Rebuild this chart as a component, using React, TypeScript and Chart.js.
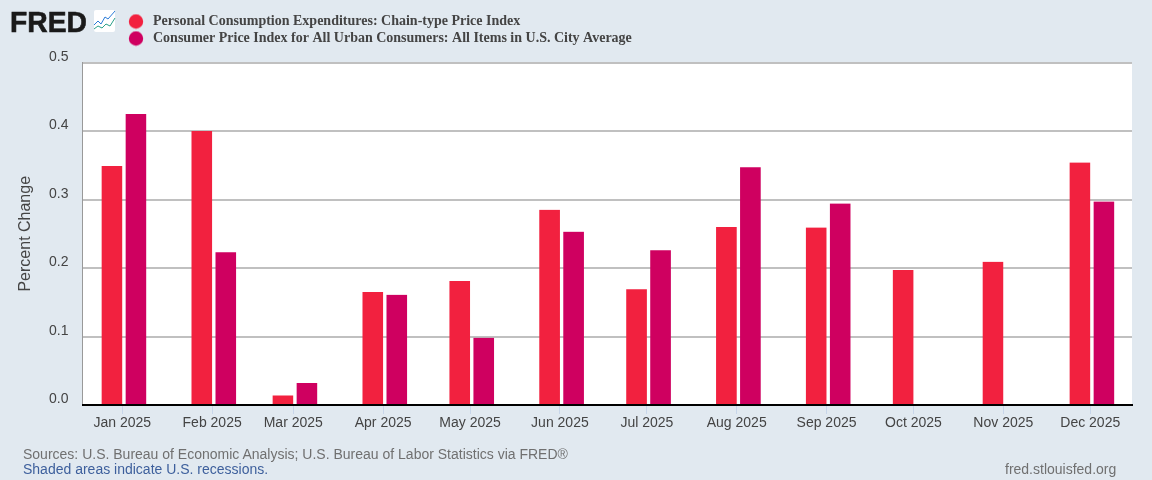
import React, { useEffect, useRef } from "react";
import { Chart, registerables } from "chart.js";

Chart.register(...registerables);

const monthLabels = ["Jan 2025","Feb 2025","Mar 2025","Apr 2025","May 2025","Jun 2025","Jul 2025","Aug 2025","Sep 2025","Oct 2025","Nov 2025","Dec 2025"];
const monthDays = [0,31,59,90,120,151,181,212,243,273,304,334];
const pceValues = [0.349,0.400,0.014,0.165,0.181,0.285,0.169,0.260,0.259,0.197,0.209,0.354];
const cpiValues: (number|null)[] = [0.425,0.223,0.032,0.161,0.098,0.253,0.226,0.347,0.294,null,null,0.297];
const pceName = "Personal Consumption Expenditures: Chain-type Price Index";
const cpiName = "Consumer Price Index for All Urban Consumers: All Items in U.S. City Average";
const pceColor = "#f2213f";
const cpiColor = "#cf0060";

function dot(color: string) {
  const c = document.createElement("canvas");
  c.width = 16; c.height = 16;
  const g = c.getContext("2d")!;
  g.fillStyle = color;
  g.beginPath(); g.arc(8, 8, 7.2, 0, Math.PI * 2); g.fill();
  return c;
}

const placeLegend = {
  id: "placeLegend",
  afterLayout(chart: any) {
    const l = chart.legend;
    const pad = l.options.labels.padding;
    l.left = 126 - pad; l.right = l.left + 700;
    l.top = 14.5 - pad;
  },
};

export default function App() {
  const ref = useRef<HTMLCanvasElement>(null);
  useEffect(() => {
    document.body.style.margin = "0";
    const toPoints = (vals: (number|null)[]) => vals.map((y, i) => ({ x: monthDays[i], y }));
    const bar = { barThickness: 24, borderColor: "rgba(0,0,0,0)", borderWidth: { left: 3.7, right: 0.3, top: 0, bottom: 0 }, borderSkipped: false };
    const chart = new Chart(ref.current!, {
      type: "bar",
      plugins: [placeLegend],
      data: {
        datasets: [
          { label: pceName, data: toPoints(pceValues), backgroundColor: pceColor, ...bar },
          { label: cpiName, data: toPoints(cpiValues), backgroundColor: cpiColor, ...bar },
        ] as any,
      },
      options: {
        animation: false,
        responsive: false,
        layout: { padding: { top: 35.5, right: 20, bottom: 0, left: 0 } },
        plugins: {
          tooltip: { enabled: false },
          legend: {
            position: "top",
            align: "start",
            maxWidth: 700,
            labels: {
              usePointStyle: true,
              pointStyleWidth: 20,
              boxHeight: 14,
              padding: 3,
              color: "#444444",
              font: { family: "'Liberation Serif'", weight: "bold", size: 14 },
              generateLabels: (c: any) => c.data.datasets.map((d: any, i: number) => ({
                text: d.label, fillStyle: d.backgroundColor, strokeStyle: d.backgroundColor, fontColor: "#444444",
                lineWidth: 0, pointStyle: dot(d.backgroundColor), datasetIndex: i, hidden: false,
              })),
            },
          },
        } as any,
        scales: {
          x: {
            type: "linear",
            min: -13.73,
            max: 348.4,
            offset: false,
            afterFit: (s: any) => { s.height = 75; },
            afterBuildTicks: (s: any) => { s.ticks = monthDays.map((value) => ({ value })); },
            grid: { display: true, offset: false, drawOnChartArea: false, drawTicks: true, tickColor: "#c8d6ea", tickLength: 9, tickWidth: 1 },
            border: { color: "#000000", width: 2, z: 1 },
            ticks: {
              autoSkip: false, maxRotation: 0, padding: 1, color: "#444444",
              font: { family: "'Liberation Sans'", size: 14 },
              callback: (v: any) => monthLabels[monthDays.indexOf(v)],
            },
          },
          y: {
            min: 0,
            max: 0.5,
            afterFit: (s: any) => { s.width = 82.5; },
            grid: { color: "#c0c0c0", lineWidth: 2, drawTicks: false },
            border: { color: "#999999", width: 1 },
            title: { display: true, text: "Percent Change", color: "#444444", padding: { top: 16, bottom: 0 }, font: { family: "'Liberation Sans'", size: 16, weight: "normal" } },
            ticks: {
              stepSize: 0.1, labelOffset: -5.5, padding: 14, color: "#444444",
              font: { family: "'Liberation Sans'", size: 14 },
              callback: (v: any) => Number(v).toFixed(1),
            },
          },
        },
      } as any,
    });
    return () => chart.destroy();
  }, []);

  const text: React.CSSProperties = { position: "absolute", fontFamily: "'Liberation Sans'", fontSize: 14, lineHeight: "15px", whiteSpace: "nowrap" };
  return (
    <div style={{ position: "fixed", left: 0, top: 0, width: 1152, height: 480, background: "#e1e9f0", overflow: "hidden" }}>
      <div style={{ position: "absolute", left: 82, top: 63, width: 1050, height: 342, background: "#ffffff" }} />
      <canvas ref={ref} width={1152} height={480} style={{ position: "absolute", left: 0, top: 0, display: "block" }} />
      <svg style={{ position: "absolute", left: 0, top: 0 }} width={120} height={40}>
        <text x={10} y={32} textLength={77} lengthAdjust="spacingAndGlyphs" fontFamily="'Liberation Sans'" fontWeight={700} fontSize={30} fill="#1a1a1a" stroke="#1a1a1a" strokeWidth={0.6}>FRED</text>
        <rect x={94} y={10} width={21} height={22} rx={2} fill="#ffffff" />
        <polyline points="94,25 98,21 101,24 105,17 108,19 115,11" fill="none" stroke="#2a7bd8" strokeWidth={1} />
        <polyline points="94,29 98,26 102,28 106,24 110,26 115,18" fill="none" stroke="#2aa08a" strokeWidth={1} />
      </svg>
      <div style={{ ...text, left: 23, top: 447, color: "#707070" }}>Sources: U.S. Bureau of Economic Analysis; U.S. Bureau of Labor Statistics via FRED®</div>
      <div style={{ ...text, left: 23, top: 462, color: "#3d5f9c" }}>Shaded areas indicate U.S. recessions.</div>
      <div style={{ ...text, left: 1005, top: 462, color: "#707070" }}>fred.stlouisfed.org</div>
    </div>
  );
}
